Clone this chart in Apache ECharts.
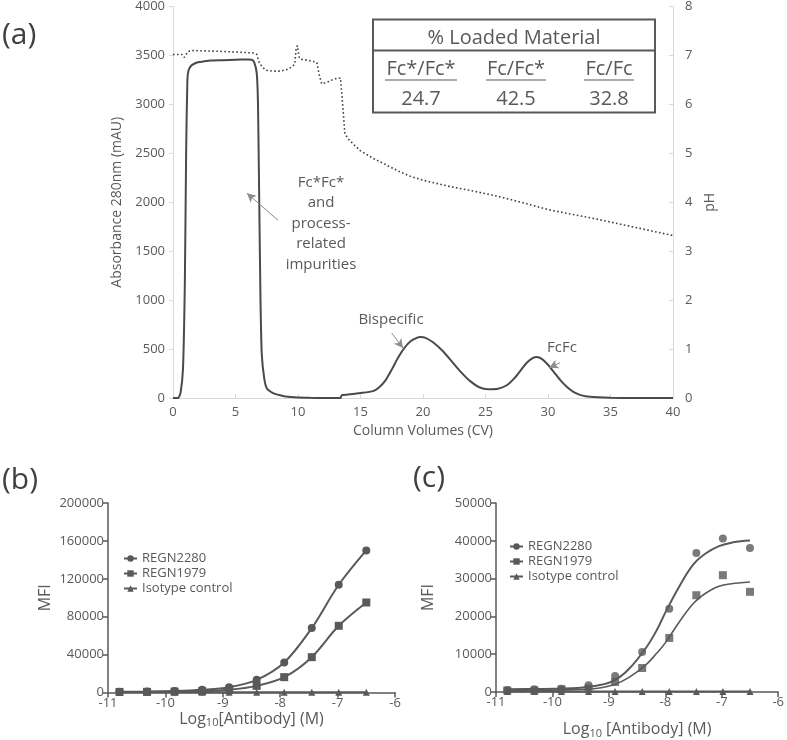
<!DOCTYPE html>
<html><head><meta charset="utf-8">
<script src="https://cdn.jsdelivr.net/npm/echarts@6/dist/echarts.min.js"></script>
<style>html,body{margin:0;padding:0;background:#fff}#c{width:787px;height:740px}</style>
</head><body><div id="c"></div>
<script>
// ---- Panel (a) data ----
const absCV = [0, 0.4, 0.6, 0.8, 0.95, 1.05, 1.15, 1.25, 1.45, 1.7, 2.0, 2.5, 3, 4, 5, 6, 6.3, 6.5, 6.7, 6.8, 6.9, 7.0, 7.1, 7.3, 7.5, 8, 8.5, 9, 10, 11, 12, 13, 13.4, 13.5, 14, 15, 16, 16.5, 17, 17.5, 18, 18.5, 19, 19.5, 19.8, 20.2, 20.8, 21.5, 22.2, 23, 23.8, 24.5, 25.2, 26, 26.7, 27.3, 27.8, 28.3, 28.8, 29.1, 29.5, 30, 30.5, 31, 31.5, 32, 32.5, 33, 34, 35, 37, 40];
const absMAU = [0, 0, 50, 300, 1200, 2500, 3250, 3350, 3395, 3415, 3430, 3440, 3448, 3452, 3456, 3458, 3456, 3430, 3316, 3000, 2000, 1000, 450, 200, 100, 50, 30, 15, 5, 2, 0, 0, 0, 30, 35, 50, 70, 110, 180, 290, 410, 510, 580, 615, 622, 615, 570, 490, 390, 270, 170, 110, 90, 95, 130, 200, 280, 360, 410, 420, 400, 340, 260, 180, 115, 65, 35, 18, 8, 3, 0, 0];
const phCV = [0, 0.7, 0.9, 1.0, 1.2, 1.5, 3, 5, 6.5, 6.7, 6.9, 7.1, 7.4, 8, 8.6, 9.2, 9.6, 9.75, 9.85, 9.95, 10.1, 10.3, 10.8, 11.5, 11.7, 11.9, 12.4, 12.9, 13.4, 13.5, 13.6, 13.75, 14, 14.5, 15, 16, 17, 18, 19, 20, 22, 24, 26, 28, 30, 32, 34, 36, 38, 40];
const phVal = [7.02, 7.02, 6.96, 6.95, 7.08, 7.1, 7.09, 7.07, 7.05, 7.02, 6.85, 6.78, 6.7, 6.68, 6.68, 6.72, 6.78, 6.85, 7.15, 7.2, 6.95, 6.92, 6.9, 6.86, 6.6, 6.42, 6.46, 6.52, 6.54, 6.5, 5.9, 5.4, 5.3, 5.17, 5.05, 4.9, 4.77, 4.64, 4.53, 4.45, 4.33, 4.23, 4.12, 3.99, 3.85, 3.75, 3.65, 3.54, 3.43, 3.32];
const tableHeader = '% Loaded Material';
const tableCols = ['Fc*/Fc*', 'Fc/Fc*', 'Fc/Fc'];
const tableVals = ['24.7', '42.5', '32.8'];

// ---- Panels (b) and (c) data ----
const logConc = [-10.8, -10.32, -9.84, -9.36, -8.89, -8.41, -7.93, -7.45, -6.98, -6.5];
const seriesNames = ['REGN2280', 'REGN1979', 'Isotype control'];
const b2280 = [700, 1000, 1500, 2800, 5600, 13400, 31700, 68000, 113700, 150000];
const b1979 = [600, 700, 1000, 1400, 2800, 7000, 16200, 37300, 70400, 95000];
const bIso = [300, 300, 300, 300, 300, 300, 300, 300, 300, 300];
const c2280 = [500, 700, 880, 1770, 4240, 10600, 22050, 36800, 40600, 38100];
const c1979 = [400, 400, 700, 900, 2650, 6350, 14300, 25600, 30900, 26500];
const cIso = [100, 100, 100, 100, 100, 100, 100, 100, 100, 100];
// fitted curves
const fitX = [-10.8, -10.3, -9.8, -9.5, -9.2, -8.9, -8.65, -8.35, -8.15, -8.0, -7.75, -7.5, -7.3, -7.05, -6.8, -6.5];
const fit2280 = [760, 800, 900, 1150, 1700, 3100, 6000, 11500, 16400, 21000, 28000, 33800, 36500, 38600, 39600, 40100];
const fit1979 = [450, 480, 550, 650, 1000, 2000, 3800, 7100, 10300, 13000, 18600, 23500, 26000, 28000, 28700, 29100];

const zip = (a, b) => a.map((v, i) => [v, b[i]]);
const FONT = 'Open Sans';
const GRAY = '#595959';
const LIGHT = '#d9d9d9';
const plain = v => String(v);

const chart = echarts.init(document.getElementById('c'), null, {renderer: 'canvas'});

function lightX(extra) {
  return Object.assign({
    axisLine: {show: true, lineStyle: {color: LIGHT, width: 1}},
    axisTick: {show: true, inside: true, length: 4, lineStyle: {color: LIGHT}},
    axisLabel: {color: GRAY, fontSize: 13, fontFamily: FONT, formatter: plain},
    splitLine: {show: false},
    nameTextStyle: {color: GRAY, fontSize: 14, fontFamily: FONT}
  }, extra);
}
function darkAx(extra) {
  return Object.assign({
    axisLine: {show: true, onZero: false, lineStyle: {color: GRAY, width: 1.5}},
    axisTick: {show: true, inside: false, length: 5, lineStyle: {color: GRAY, width: 1.5}},
    axisLabel: {color: GRAY, fontSize: 13, fontFamily: FONT, margin: 4, formatter: plain},
    splitLine: {show: false},
    nameTextStyle: {color: GRAY, fontSize: 16, fontFamily: FONT}
  }, extra);
}
const subRich = {sub: {fontSize: 11, fontFamily: FONT, color: GRAY, padding: [8, 0, 0, 0]}};

const lineBase = (name, data, sym, xi, yi, extra) => Object.assign({
  name, type: 'line', data, xAxisIndex: xi, yAxisIndex: yi,
  smooth: 0.35, symbol: sym, symbolSize: 8, showSymbol: true,
  lineStyle: {color: GRAY, width: 2}, itemStyle: {color: GRAY},
  animation: false
}, extra || {});

const option = {
  backgroundColor: '#fff',
  animation: false,
  grid: [
    {left: 173, top: 6, width: 500, height: 392},
    {left: 108, top: 503, width: 287, height: 189.5},
    {left: 496, top: 503, width: 284, height: 189}
  ],
  xAxis: [
    lightX({gridIndex: 0, type: 'value', min: 0, max: 40, interval: 5,
      name: 'Column Volumes (CV)', nameLocation: 'middle', nameGap: 22}),
    darkAx({gridIndex: 1, type: 'value', min: -11, max: -6, interval: 1,
      name: 'Log{sub|10}[Antibody] (M)', nameLocation: 'middle', nameGap: 17,
      nameTextStyle: {color: GRAY, fontSize: 16, fontFamily: FONT, rich: subRich}}),
    darkAx({gridIndex: 2, type: 'value', min: -11, max: -6, interval: 1,
      name: 'Log{sub|10} [Antibody] (M)', nameLocation: 'middle', nameGap: 28,
      nameTextStyle: {color: GRAY, fontSize: 16, fontFamily: FONT, rich: subRich}})
  ],
  yAxis: [
    lightX({gridIndex: 0, type: 'value', min: 0, max: 4000, interval: 500,
      axisTick: {show: true, inside: false, length: 4, lineStyle: {color: LIGHT}},
      name: 'Absorbance 280nm (mAU)', nameLocation: 'middle', nameGap: 45}),
    lightX({gridIndex: 0, type: 'value', position: 'right', min: 0, max: 8, interval: 1,
      name: 'pH', nameLocation: 'middle', nameGap: 27, axisLabel: {color: GRAY, fontSize: 13, fontFamily: FONT, margin: 12, formatter: plain}}),
    darkAx({gridIndex: 1, type: 'value', min: 0, max: 200000, interval: 40000,
      name: 'MFI', nameLocation: 'middle', nameGap: 55}),
    darkAx({gridIndex: 2, type: 'value', min: 0, max: 50000, interval: 10000,
      name: 'MFI', nameLocation: 'middle', nameGap: 60})
  ],
  legend: [
    {data: seriesNames, orient: 'vertical', left: 118, top: 547, itemGap: 2, itemWidth: 13, itemHeight: 8,
      textStyle: {color: GRAY, fontSize: 13, fontFamily: FONT}, selectedMode: false},
    {data: seriesNames, orient: 'vertical', left: 504, top: 535, itemGap: 2, itemWidth: 13, itemHeight: 8,
      textStyle: {color: GRAY, fontSize: 13, fontFamily: FONT}, selectedMode: false}
  ],
  series: [
    {name: 'Absorbance', type: 'line', xAxisIndex: 0, yAxisIndex: 0, data: zip(absCV, absMAU),
      showSymbol: false, symbol: 'none', smooth: 0.2, lineStyle: {color: '#4a4a4a', width: 2},
      markLine: {silent: true, symbol: ['none', 'arrow'], symbolSize: [7, 9],
        lineStyle: {color: '#8c8c8c', width: 1, type: 'solid'}, label: {show: false},
        data: [
          [{coord: [8.4, 1816]}, {coord: [5.92, 2092]}],
          [{coord: [17.5, 663]}, {coord: [18.4, 510]}],
          [{coord: [30.96, 360]}, {coord: [30.1, 310]}]
        ]}},
    {name: 'pH', type: 'line', xAxisIndex: 0, yAxisIndex: 1, data: zip(phCV, phVal),
      showSymbol: false, symbol: 'none', lineStyle: {color: '#404040', width: 1.6, type: [1.6, 2.4]}},
    lineBase(seriesNames[0], zip(logConc, b2280), 'circle', 1, 2),
    lineBase(seriesNames[1], zip(logConc, b1979), 'rect', 1, 2, {symbolSize: 8}),
    lineBase(seriesNames[2], zip(logConc, bIso), 'triangle', 1, 2, {symbolSize: 7, smooth: false}),
    lineBase(seriesNames[0], zip(fitX, fit2280), 'circle', 2, 3, {showSymbol: false, smooth: 0.4}),
    lineBase(seriesNames[1], zip(fitX, fit1979), 'rect', 2, 3, {showSymbol: false, smooth: 0.4, lineStyle: {color: GRAY, width: 1.6}}),
    {name: seriesNames[0], type: 'scatter', xAxisIndex: 2, yAxisIndex: 3, data: zip(logConc, c2280), symbol: 'circle', symbolSize: 8, itemStyle: {color: GRAY}},
    {name: seriesNames[1], type: 'scatter', xAxisIndex: 2, yAxisIndex: 3, data: zip(logConc, c1979), symbol: 'rect', symbolSize: 8, itemStyle: {color: GRAY}},
    lineBase(seriesNames[2], zip(logConc, cIso), 'triangle', 2, 3, {symbolSize: 7, smooth: false})
  ],
  graphic: [
    {type: 'text', left: 2, top: 20, style: {text: '(a)', fontSize: 30, fontFamily: FONT, fill: '#404040'}},
    {type: 'text', left: 2, top: 465, style: {text: '(b)', fontSize: 30, fontFamily: FONT, fill: '#404040'}},
    {type: 'text', left: 413, top: 463, style: {text: '(c)', fontSize: 30, fontFamily: FONT, fill: '#404040'}},
    {type: 'text', x: 321, y: 172, style: {text: 'Fc*Fc*\nand\nprocess-\nrelated\nimpurities', fontSize: 15, lineHeight: 20.5, fontFamily: FONT, fill: GRAY, align: 'center', verticalAlign: 'top'}},
    {type: 'text', x: 391, y: 320, style: {text: 'Bispecific', fontSize: 15, fontFamily: FONT, fill: GRAY, align: 'center', verticalAlign: 'middle'}},
    {type: 'text', x: 562, y: 348, style: {text: 'FcFc', fontSize: 15, fontFamily: FONT, fill: GRAY, align: 'center', verticalAlign: 'middle'}},
    {type: 'rect', shape: {x: 373, y: 19.5, width: 282, height: 93}, style: {fill: '#fff', stroke: GRAY, lineWidth: 2}, z: 10},
    {type: 'line', shape: {x1: 373, y1: 50.5, x2: 655, y2: 50.5}, style: {stroke: GRAY, lineWidth: 2}, z: 11},
    {type: 'text', x: 514, y: 38, z: 11, style: {text: tableHeader, fontSize: 20, fontFamily: FONT, fill: GRAY, align: 'center', verticalAlign: 'middle'}},
    {type: 'text', x: 421, y: 69, z: 11, style: {text: tableCols[0], fontSize: 20, fontFamily: FONT, fill: GRAY, align: 'center', verticalAlign: 'middle'}},
    {type: 'text', x: 516, y: 69, z: 11, style: {text: tableCols[1], fontSize: 20, fontFamily: FONT, fill: GRAY, align: 'center', verticalAlign: 'middle'}},
    {type: 'text', x: 609, y: 69, z: 11, style: {text: tableCols[2], fontSize: 20, fontFamily: FONT, fill: GRAY, align: 'center', verticalAlign: 'middle'}},
    {type: 'line', shape: {x1: 385, y1: 80, x2: 457, y2: 80}, style: {stroke: GRAY, lineWidth: 1.2}, z: 11},
    {type: 'line', shape: {x1: 486, y1: 80, x2: 546, y2: 80}, style: {stroke: GRAY, lineWidth: 1.2}, z: 11},
    {type: 'line', shape: {x1: 584, y1: 80, x2: 634, y2: 80}, style: {stroke: GRAY, lineWidth: 1.2}, z: 11},
    {type: 'text', x: 421, y: 99, z: 11, style: {text: tableVals[0], fontSize: 20, fontFamily: FONT, fill: GRAY, align: 'center', verticalAlign: 'middle'}},
    {type: 'text', x: 516, y: 99, z: 11, style: {text: tableVals[1], fontSize: 20, fontFamily: FONT, fill: GRAY, align: 'center', verticalAlign: 'middle'}},
    {type: 'text', x: 609, y: 99, z: 11, style: {text: tableVals[2], fontSize: 20, fontFamily: FONT, fill: GRAY, align: 'center', verticalAlign: 'middle'}}
  ]
};
chart.setOption(option);
</script></body></html>
